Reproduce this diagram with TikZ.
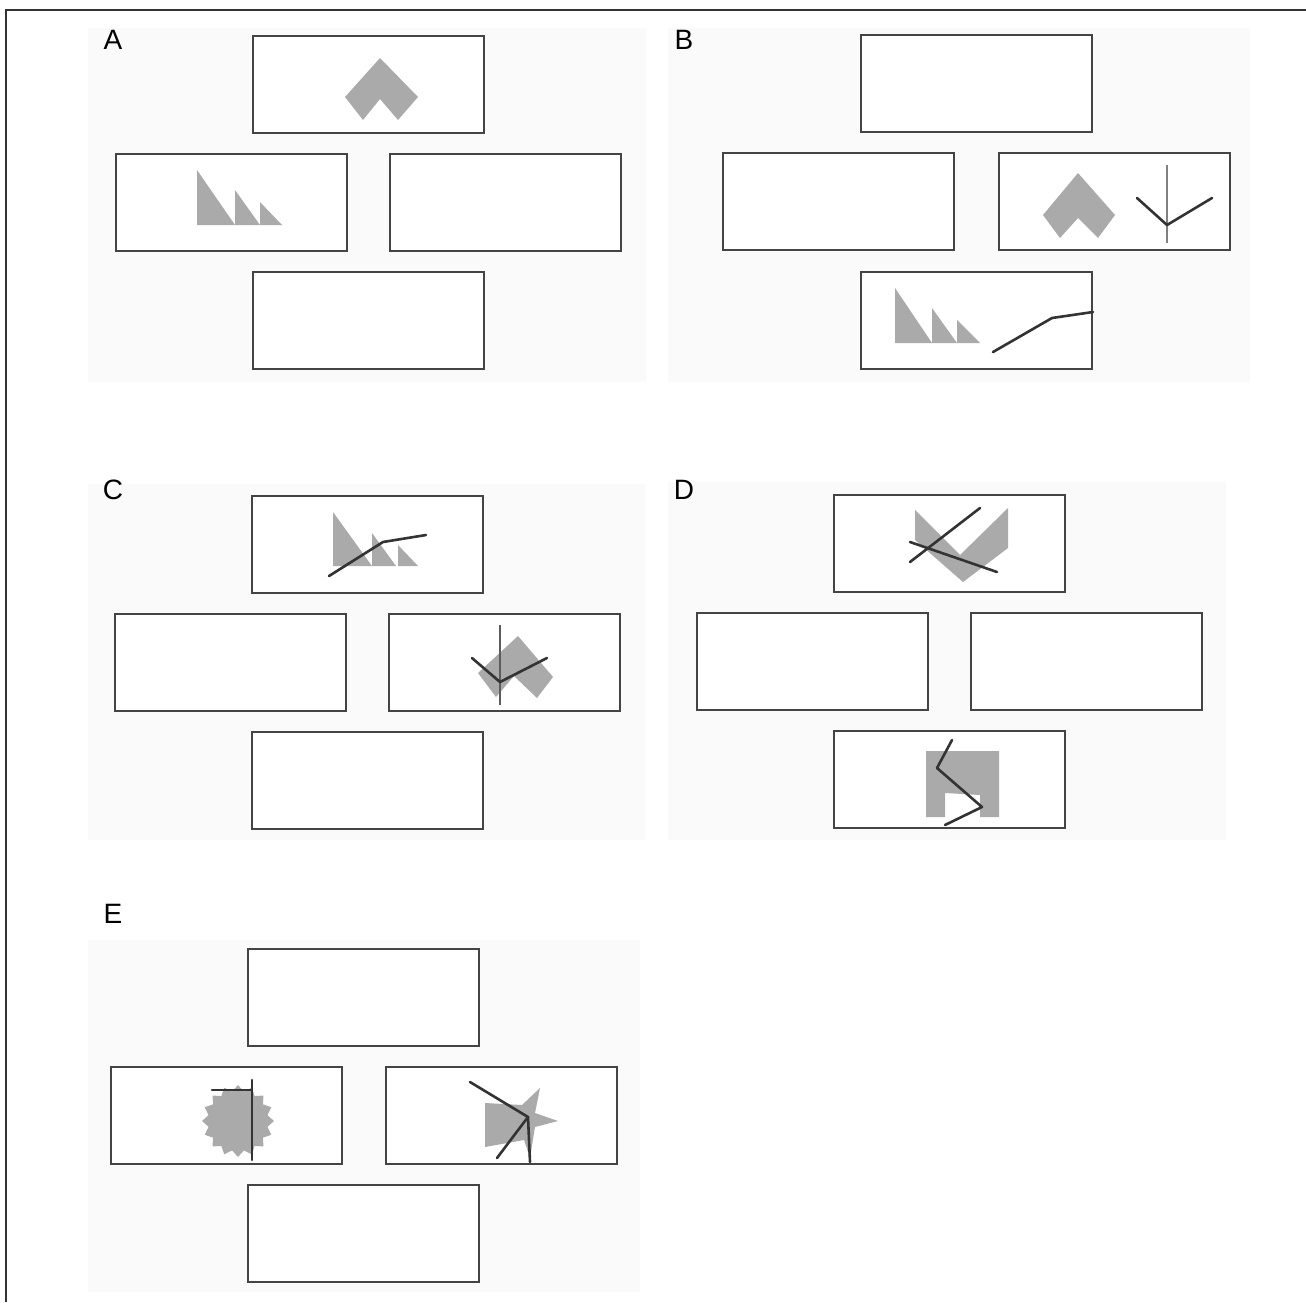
\documentclass[tikz,border=0pt]{standalone}
\usepackage{fontspec}
\setmainfont{Liberation Sans}
\usetikzlibrary{shapes.geometric}
\definecolor{shapegray}{HTML}{AAAAAA}
\definecolor{linegray}{HTML}{333333}
\definecolor{boxgray}{HTML}{444444}
\definecolor{bggray}{HTML}{FAFAFA}
\begin{document}
\begin{tikzpicture}[x=1pt,y=-1pt,
  box/.style={draw=boxgray,line width=2pt,minimum width=231pt,minimum height=97pt,inner sep=0pt,fill=white},
  lbl/.style={font=\fontsize{28}{30}\selectfont,inner sep=0pt},
  shp/.style={fill=shapegray,draw=none},
  stroke/.style={draw=linegray,line width=2.6pt,line cap=round,line join=round},
  thin/.style={draw=gray,line width=1.8pt},
  bg/.style={fill=bggray,draw=none}]
\useasboundingbox (0,0) rectangle (1306,1302);
% frame
\draw[linegray,line width=1.5pt] (6,1302) -- (6,10) -- (1306,10);
% faint panel backgrounds
\fill[bg] (88,28) rectangle (646,382);
\fill[bg] (668,28) rectangle (1250,382);
\fill[bg] (88,484) rectangle (645,840);
\fill[bg] (668,482) rectangle (1226,840);
\fill[bg] (88,940) rectangle (640,1292);
% labels
\node[lbl] (lA) at (113,40) {A};
\node[lbl] (lB) at (684,40) {B};
\node[lbl] (lC) at (113,490) {C};
\node[lbl] (lD) at (684,490) {D};
\node[lbl] (lE) at (113,914) {E};
% Panel A
\node[box] (At) at (368,84.5) {};
\node[box] (Al) at (231,202.5) {};
\node[box] (Ar) at (505,202.5) {};
\node[box] (Ab) at (368,320.5) {};
\fill[shp] (380,58) -- (418,97) -- (398,120) -- (380,99) -- (363,120) -- (345,97) -- cycle;
\fill[shp] (197,225) -- (197,170) -- (235,225) -- cycle;
\fill[shp] (235,225) -- (235,190) -- (260,225) -- cycle;
\fill[shp] (260,225) -- (260,202) -- (282,225) -- cycle;
% Panel B
\node[box] (Bt) at (976.5,83.5) {};
\node[box] (Bl) at (838.5,201.5) {};
\node[box] (Br) at (1114,201.5) {};
\node[box] (Bb) at (976.5,320) {};
\fill[shp] (1078,173) -- (1115,215) -- (1098,238) -- (1078,218) -- (1060,238) -- (1043,215) -- cycle;
\draw[thin] (1167,165) -- (1167,243);
\draw[stroke] (1137,198) -- (1167,225) -- (1212,198);
\fill[shp] (895,343) -- (895,288) -- (932,343) -- cycle;
\fill[shp] (932,343) -- (932,308) -- (957,343) -- cycle;
\fill[shp] (957,343) -- (957,320) -- (980,343) -- cycle;
\coordinate (Bend) at (Bb.east |- 0,312);
\draw[stroke] (993,352) -- (1052,318) -- (Bend);
% Panel C
\node[box] (Ct) at (367,544) {};
\node[box] (Cl) at (230,662.5) {};
\node[box] (Cr) at (504,662.5) {};
\node[box] (Cb) at (367,780.5) {};
\fill[shp] (333,566) -- (333,512) -- (372,566) -- cycle;
\fill[shp] (372,566) -- (372,533) -- (396,566) -- cycle;
\fill[shp] (398,566) -- (398,545) -- (418,566) -- cycle;
\draw[stroke] (329,576) -- (383,542) -- (426,535);
\fill[shp] (518,636) -- (553,677) -- (537,698) -- (514,676) -- (496,697) -- (478,673) -- cycle;
\draw[thin,draw=linegray!80] (500,625) -- (500,705);
\draw[stroke] (472,658) -- (500,682) -- (547,658);
% Panel D
\node[box] (Dt) at (949,543) {};
\node[box] (Dl) at (812,661.5) {};
\node[box] (Dr) at (1086.5,661.5) {};
\node[box] (Db) at (949,779.5) {};
\fill[shp] (915,510) -- (960,555) -- (1008,508) -- (1008,548) -- (963,582) -- (915,540) -- cycle;
\draw[stroke] (910,562) -- (980,508);
\draw[stroke] (910,542) -- (997,572);
\fill[shp] (926,751) -- (999,751) -- (999,817) -- (980,817) -- (980,795) -- (945,793) -- (945,817) -- (926,817) -- cycle;
\draw[stroke] (952,740) -- (937,768) -- (982,807) -- (945,825);
% Panel E
\node[box] (Et) at (363.5,997.5) {};
\node[box] (El) at (226.5,1115.5) {};
\node[box] (Er) at (501,1115.5) {};
\node[box] (Eb) at (363.5,1233.5) {};
\node[star,star points=16,star point ratio=1.2,minimum size=72pt,inner sep=0pt,fill=shapegray] (Estar) at (238,1121) {};
\draw[stroke] (212,1090) -- (252,1090);
\draw[stroke] (252,1080) -- (252,1160);
\fill[shp] (485,1103) -- (522,1105) -- (540,1088) -- (535,1113) -- (558,1121) -- (535,1127) -- (530,1158) -- (524,1140) -- (485,1147) -- cycle;
\coordinate (Ej) at (528,1117);
\draw[stroke] (470,1082) -- (Ej) -- (497,1158);
\draw[stroke] (Ej) -- (530,1162);
\end{tikzpicture}
\end{document}
